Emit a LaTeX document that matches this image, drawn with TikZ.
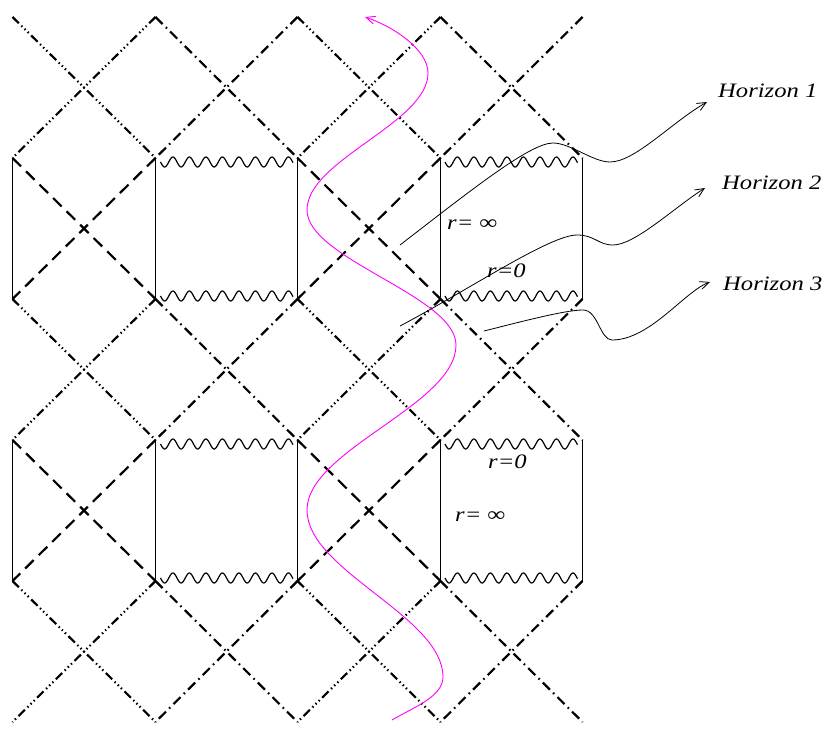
\documentclass[tikz,border=0pt]{standalone}
\usepackage{fontspec}
\setmainfont{Liberation Serif}
\newfontfamily\lblfont{Liberation Serif}[FakeStretch=1.2]
\usetikzlibrary{arrows.meta}
\definecolor{trajcol}{RGB}{255,0,255}
\newcommand\xcell[5]{\draw[#1] (v#2#3) -- (v#4#5); \draw[#1] (v#4#3) -- (v#2#5);}
\newcommand\wavyline[2]{\draw[wav] plot[domain=0:132.5,samples=160] ({#1+\x},{#2-5*sin(21.8*\x)});}
\begin{document}
\begin{tikzpicture}[x=1pt,y=1pt,
  hone/.style={line width=2.2pt, dash pattern=on 12pt off 7pt},
  htwo/.style={line width=2.2pt, dash pattern=on 9pt off 3.5pt on 1.4pt off 3pt on 1.4pt off 3pt on 1.4pt off 3.5pt},
  hthree/.style={line width=2.2pt, dash pattern=on 10pt off 4.5pt on 1.6pt off 4.5pt},
  bound/.style={line width=1.7pt},
  wav/.style={line width=1.2pt},
  pointer/.style={line width=0.8pt, -{Straight Barb[length=9pt,width=8pt]}},
  traj/.style={trajcol, line width=0.9pt, -{Straight Barb[length=9pt,width=8pt]}},
  lbl/.style={font=\lblfont\itshape\fontsize{20.5}{22}\selectfont, inner sep=0pt, anchor=base west}]
\useasboundingbox (0,0) rectangle (826,732);
% grid vertices
\foreach \i/\xx in {0/12.5,1/155.5,2/297.5,3/440.5,4/582.5}
  \foreach \j/\yy in {0/715,1/574,2/433,3/292,4/151,5/10}
    \coordinate (v\i\j) at (\xx,\yy);
% rows 0,2,4
\xcell{htwo}{0}{0}{1}{1}
\xcell{hthree}{1}{0}{2}{1}
\xcell{htwo}{2}{0}{3}{1}
\xcell{hthree}{3}{0}{4}{1}
\xcell{htwo}{0}{2}{1}{3}
\xcell{hthree}{1}{2}{2}{3}
\xcell{htwo}{2}{2}{3}{3}
\xcell{hthree}{3}{2}{4}{3}
\xcell{htwo}{0}{4}{1}{5}
\xcell{hthree}{1}{4}{2}{5}
\xcell{htwo}{2}{4}{3}{5}
\xcell{hthree}{3}{4}{4}{5}
% rows 1,3 dashed
\xcell{hone}{0}{1}{1}{2}
\xcell{hone}{2}{1}{3}{2}
\xcell{hone}{0}{3}{1}{4}
\xcell{hone}{2}{3}{3}{4}
% left boundaries
\draw[bound] (v01) -- (v02);
\draw[bound] (v03) -- (v04);
% boxes
\draw[bound] (v11) -- (v12); \draw[bound] (v21) -- (v22);
\draw[bound] (v31) -- (v32); \draw[bound] (v41) -- (v42);
\draw[bound] (v13) -- (v14); \draw[bound] (v23) -- (v24);
\draw[bound] (v33) -- (v34); \draw[bound] (v43) -- (v44);
\wavyline{160.5}{570}
\wavyline{160.5}{436}
\wavyline{445}{570}
\wavyline{445}{436}
\wavyline{160.5}{288}
\wavyline{160.5}{154}
\wavyline{445}{288}
\wavyline{445}{154}
% labels in boxes
\node[lbl] (ri1) at (447,502) {r= ∞};
\node[lbl] (rz1) at (487,455) {r=0};
\node[lbl] (rz2) at (488,264) {r=0};
\node[lbl] (ri2) at (455,211) {r= ∞};
% horizon labels
\node[lbl] (h1) at (718,634) {Horizon 1};
\node[lbl] (h2) at (722,542) {Horizon 2};
\node[lbl] (h3) at (723,442) {Horizon 3};
\coordinate (s1) at (400,487); \coordinate (t1) at (707,630);
\coordinate (s2) at (400,406); \coordinate (t2) at (705,544);
\coordinate (s3) at (484,401); \coordinate (t3) at (710,450);
\draw[pointer] (s1) .. controls (470,541) and (530,589) .. (553,589)
  .. controls (570,589) and (593,570) .. (610,570)
  .. controls (635,570) and (672,610) .. (t1);
\draw[pointer] (s2) .. controls (470,443) and (550,497) .. (577,497)
  .. controls (595,497) and (598,487) .. (613,487)
  .. controls (635,487) and (675,525) .. (t2);
\draw[pointer] (s3) .. controls (520,410) and (565,422) .. (583,422)
  .. controls (598,422) and (600,392) .. (612,392)
  .. controls (650,392) and (685,441) .. (t3);
% trajectory
\coordinate (m0) at (392,12); \coordinate (m1) at (365,715);
\draw[traj] (m0) .. controls (412,24) and (443,35) .. (443,55)
  .. controls (443,115.8) and (307,161.2) .. (307,222)
  .. controls (307,282) and (456,327) .. (456,387)
  .. controls (456,436) and (307,473) .. (307,522)
  .. controls (307,572) and (428,609) .. (428,659)
  .. controls (428,683) and (392,706) .. (m1);
\end{tikzpicture}
\end{document}
